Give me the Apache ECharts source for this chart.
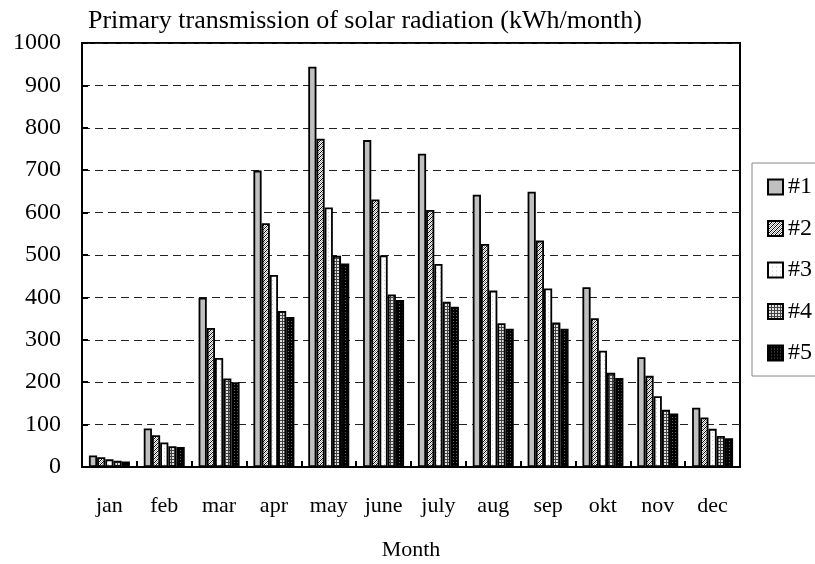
<!DOCTYPE html>
<html>
<head>
<meta charset="utf-8">
<script src="https://cdn.jsdelivr.net/npm/echarts@6/dist/echarts.min.js"></script>
<style>
  html, body { margin: 0; padding: 0; background: #fff; }
  #chart { width: 815px; height: 564px; }
</style>
</head>
<body>
<div id="chart"></div>
<script>
// Monthly primary transmission of solar radiation, kWh/month
const months = ['jan', 'feb', 'mar', 'apr', 'may', 'june', 'july', 'aug', 'sep', 'okt', 'nov', 'dec'];
const seriesNames = ['#1', '#2', '#3', '#4', '#5'];
const s1 = [27, 91, 399, 699, 944, 771, 739, 642, 649, 424, 259, 140];
const s2 = [23, 75, 328, 575, 774, 631, 606, 526, 534, 351, 215, 117];
const s3 = [18, 58, 257, 453, 612, 499, 479, 416, 421, 274, 167, 90];
const s4 = [15, 49, 209, 368, 498, 407, 390, 339, 341, 222, 135, 73];
const s5 = [13, 47, 200, 354, 480, 394, 378, 326, 326, 210, 126, 68];
const yTicks = { min: 0, max: 1000, step: 100 };

// Small pixel tiles used as fills for the five series
function tile(size, painter) {
  const c = document.createElement('canvas');
  c.width = size; c.height = size;
  const ctx = c.getContext('2d');
  for (let y = 0; y < size; y++) {
    for (let x = 0; x < size; x++) {
      ctx.fillStyle = painter(x, y);
      ctx.fillRect(x, y, 1, 1);
    }
  }
  return { image: c, repeat: 'repeat' };
}
const fills = [
  '#c0c0c0',
  tile(4, (x, y) => ((x + y) % 4 === 0 ? '#000' : (x + y) % 4 === 2 ? '#999' : '#fff')),
  tile(4, (x, y) => (x % 4 === 0 && y % 4 === 0 ? '#c8c8c8' : '#fff')),
  tile(3, (x, y) => (x % 3 === 0 || y % 3 === 0 ? '#444' : '#e0e0e0')),
  tile(3, (x, y) => (x % 3 === 0 && y % 3 === 0 ? '#666' : '#000'))
];
const values = [s1, s2, s3, s4, s5];

const serif = '"Liberation Serif", "DejaVu Serif", serif';
const chart = echarts.init(document.getElementById('chart'), null, { renderer: 'canvas' });

chart.setOption({
  animation: false,
  backgroundColor: '#fff',
  title: {
    text: 'Primary transmission of solar radiation (kWh/month)',
    left: 88,
    top: 8,
    padding: 0,
    textStyle: { fontFamily: serif, fontSize: 26, fontWeight: 'normal', color: '#000' }
  },
  grid: {
    left: 82, right: 75, top: 43, bottom: 97,
    outerBoundsMode: 'none',
    containLabel: false,
    show: true, borderColor: '#000', borderWidth: 2, backgroundColor: 'transparent'
  },
  legend: {
    orient: 'vertical',
    left: 752,
    top: 163,
    padding: [12, 30, 11, 15],
    borderColor: '#888',
    borderWidth: 1,
    itemWidth: 15,
    itemHeight: 15,
    itemGap: 17.5,
    icon: 'rect',
    data: seriesNames,
    textStyle: { fontFamily: serif, fontSize: 24, color: '#000' }
  },
  xAxis: {
    type: 'category',
    data: months,
    name: 'Month',
    nameLocation: 'middle',
    nameGap: 72,
    nameTextStyle: { fontFamily: serif, fontSize: 22, color: '#000' },
    axisLine: { lineStyle: { color: '#000', width: 2 } },
    axisTick: { show: true, inside: true, length: 6, lineStyle: { color: '#000', width: 2 } },
    axisLabel: { fontFamily: serif, fontSize: 22, color: '#000', margin: 28 }
  },
  yAxis: {
    type: 'value',
    min: yTicks.min,
    max: yTicks.max,
    interval: yTicks.step,
    axisLine: { show: true, lineStyle: { color: '#000', width: 2 } },
    axisTick: { show: true, inside: true, length: 6, lineStyle: { color: '#000', width: 2 } },
    axisLabel: { fontFamily: serif, fontSize: 24, color: '#000', margin: 21, formatter: v => String(v) },
    splitLine: { show: true, lineStyle: { color: '#222', width: 1, type: [8, 5] } }
  },
  series: seriesNames.map((name, i) => ({
    name: name,
    type: 'bar',
    data: values[i],
    barWidth: 8.2,
    barGap: '0%',
    itemStyle: { color: fills[i], borderColor: '#000', borderWidth: 1.8 },
    emphasis: { disabled: true }
  }))
});
</script>
</body>
</html>
